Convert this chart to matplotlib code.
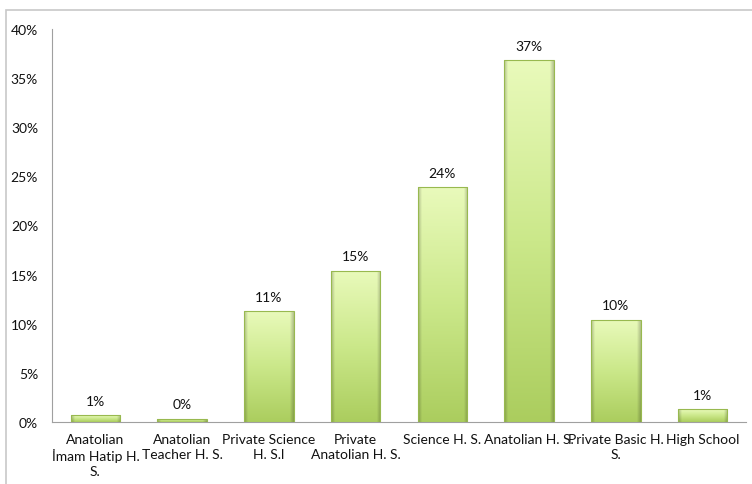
import matplotlib.pyplot as plt
import numpy as np
from matplotlib.colors import LinearSegmentedColormap
from matplotlib.patches import Rectangle
from matplotlib.ticker import FuncFormatter

plt.rcParams["font.family"] = ["Lato", "DejaVu Sans"]

schools = [
    "Anatolian\nİmam Hatip H.\nS.",
    "Anatolian\nTeacher H. S.",
    "Private Science\nH. S.l",
    "Private\nAnatolian H. S.",
    "Science H. S.",
    "Anatolian H. S.",
    "Private Basic H.\nS.",
    "High School",
]
shares = [0.7, 0.35, 11.3, 15.4, 23.9, 36.8, 10.4, 1.3]
labels = ["1%", "0%", "11%", "15%", "24%", "37%", "10%", "1%"]
y_ticks = [0, 5, 10, 15, 20, 25, 30, 35, 40]

fig = plt.figure(figsize=(7.52, 4.85), dpi=100)
W, H = 752, 485

# light outer chart frame
fig.patches.append(Rectangle((6 / W, -0.1), 1.2, 1 - 10.5 / H + 0.1,
                             transform=fig.transFigure, fill=False,
                             edgecolor="#c8c8c8", linewidth=1.2))

ax = fig.add_axes([52 / W, (H - 423) / H, 694 / W, 393 / H])
x = np.arange(len(schools))
bars = ax.bar(x, shares, width=0.57, color="#c8e67f", edgecolor="none", zorder=2)

# vertical gradient with soft darker edges, clipped to each bar
v_cmap = LinearSegmentedColormap.from_list("v", ["#abcd5e", "#cbe88a", "#e9fabb"])
grad_v = np.linspace(0, 1, 256)[:, None]
h_prof = np.linspace(-1, 1, 64)[None, :]
for bar in bars:
    bx, by = bar.get_x(), bar.get_y()
    bw, bh = bar.get_width(), bar.get_height()
    rgb = v_cmap(np.repeat(grad_v, 64, axis=1))[..., :3]
    edge = np.clip((np.abs(h_prof) - 0.85) / 0.15, 0, 1)
    rgb = rgb * (1 - 0.22 * edge[..., None])
    im = ax.imshow(rgb, extent=(bx, bx + bw, by, by + bh), origin="lower",
                   aspect="auto", zorder=3, interpolation="bilinear")
    im.set_clip_path(bar)
    ax.add_patch(Rectangle((bx, by), bw, bh, fill=False,
                           edgecolor="#98b94f", linewidth=0.8, zorder=4))

for xi, val, lab in zip(x, shares, labels):
    ax.annotate(lab, (xi, val), xytext=(0, 6), textcoords="offset points",
                ha="center", va="bottom", fontsize=10, color="#111111")

ax.set_xlim(-0.5, len(schools) - 0.5)
ax.set_ylim(0, 40)
ax.set_yticks(y_ticks)
ax.yaxis.set_major_formatter(FuncFormatter(lambda v, _: f"{v:.0f}%"))
ax.set_xticks(x)
ax.set_xticklabels(schools, fontsize=10, linespacing=1.25, color="#111111")
ax.tick_params(axis="y", labelsize=10, labelcolor="#111111", length=0, pad=10)
ax.tick_params(axis="x", length=0, pad=8)

for side in ("top", "right"):
    ax.spines[side].set_visible(False)
ax.spines["left"].set_color("#a0a0a0")
ax.spines["bottom"].set_color("#a0a0a0")

fig.savefig("out.png", dpi=100)
